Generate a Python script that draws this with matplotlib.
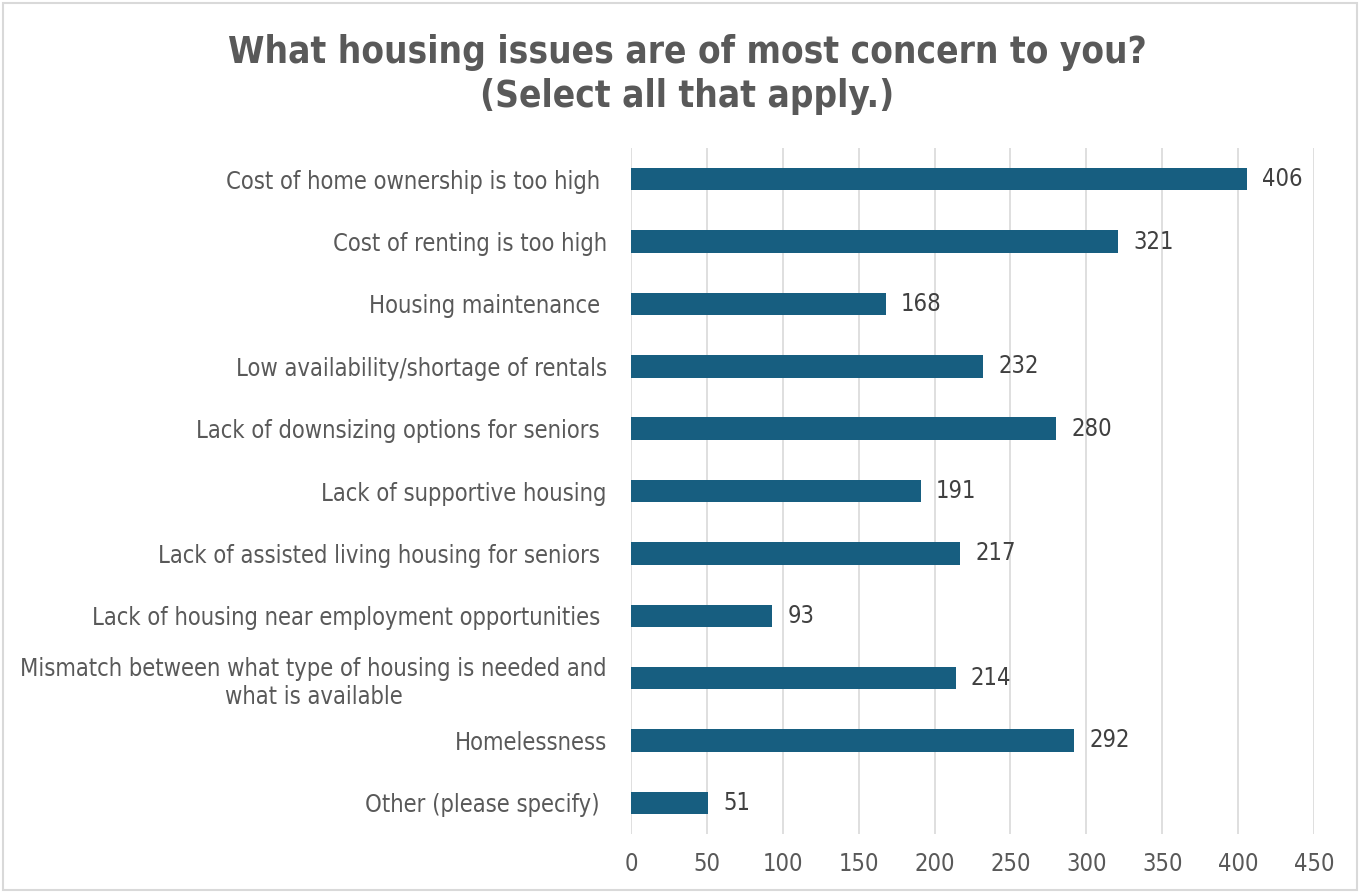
import numpy as np
import matplotlib
matplotlib.use("Agg")
import matplotlib.pyplot as plt
from matplotlib.patches import Rectangle

TITLE = "What housing issues are of most concern to you?\n(Select all that apply.)"
ISSUES = [
    "Cost of home ownership is too high ",
    "Cost of renting is too high",
    "Housing maintenance ",
    "Low availability/shortage of rentals",
    "Lack of downsizing options for seniors ",
    "Lack of supportive housing",
    "Lack of assisted living housing for seniors ",
    "Lack of housing near employment opportunities ",
    "Mismatch between what type of housing is needed and\nwhat is available",
    "Homelessness",
    "Other (please specify) ",
]
COUNTS = [406, 321, 168, 232, 280, 191, 217, 93, 214, 292, 51]
XTICKS = [0, 50, 100, 150, 200, 250, 300, 350, 400, 450]

BAR_COLOR = "#175e80"
TEXT_GRAY = "#595959"

plt.rcParams["font.family"] = ["DejaVu Sans"]
plt.rcParams["font.stretch"] = "condensed"

fig = plt.figure(figsize=(13.61, 8.92), dpi=100)
ax = fig.add_axes([0.4636, 0.065, 0.5019, 0.769])

y = np.arange(len(ISSUES))
ax.barh(y, COUNTS, height=0.36, color=BAR_COLOR, zorder=3)
for yi, v in zip(y, COUNTS):
    ax.text(v + 10, yi, str(v), va="center", ha="left", fontsize=17, color="#404040")

ax.set_ylim(len(ISSUES) - 0.5, -0.5)
ax.set_xlim(0, 450)
ax.set_yticks(y)
ax.set_yticklabels(ISSUES, fontsize=17, color=TEXT_GRAY, multialignment="center",
                   linespacing=1.25)
ax.set_xticks(XTICKS)
ax.set_xticklabels([str(t) for t in XTICKS], fontsize=17, color=TEXT_GRAY)
ax.tick_params(axis="both", length=0)
ax.tick_params(axis="x", pad=13)
ax.tick_params(axis="y", pad=17.5)

ax.grid(axis="x", color="#d9d9d9", linewidth=1.2, zorder=0)
for s in ax.spines.values():
    s.set_visible(False)

fig.text(0.5048, 0.9165, TITLE, ha="center", va="center", fontsize=26.5, fontweight="bold",
         color=TEXT_GRAY, linespacing=1.25)

fig.patches.append(Rectangle((0.002, 0.002), 0.995, 0.995, transform=fig.transFigure,
                             fill=False, edgecolor="#d9d9d9", linewidth=1.5))

fig.savefig("out.png", dpi=100)
